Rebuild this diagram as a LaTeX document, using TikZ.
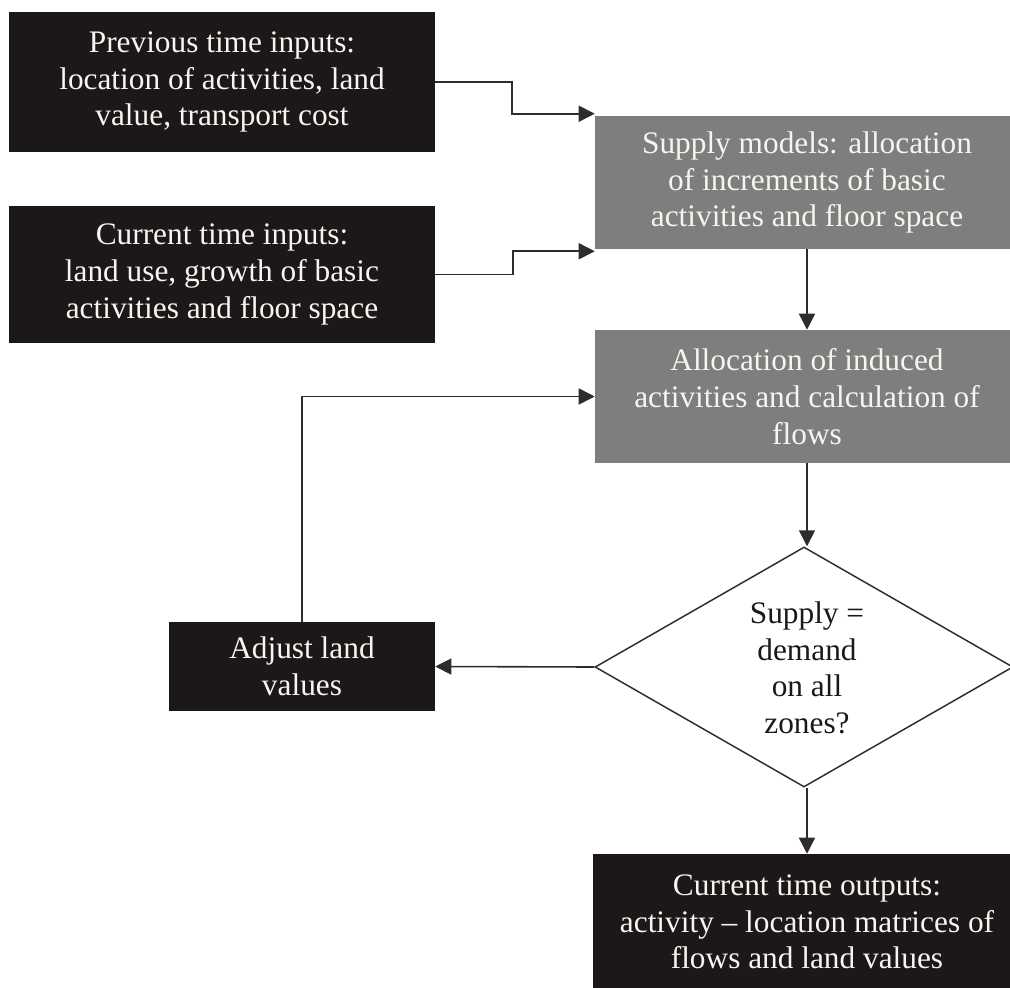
\documentclass[tikz,border=0pt]{standalone}
\usepackage{fontspec}
\setmainfont{Liberation Serif}
\usetikzlibrary{shapes.geometric,arrows.meta}
\definecolor{boxblack}{RGB}{28,24,25}
\definecolor{boxgray}{RGB}{126,126,126}
\definecolor{paper}{RGB}{248,244,238}
\definecolor{linecol}{RGB}{45,45,45}
\begin{document}
\begin{tikzpicture}[x=0.75pt,y=-0.75pt,
  lbl/.style={font=\fontsize{23.5}{27.5}\selectfont, align=center, inner sep=0pt},
  darkbox/.style={rectangle, fill=boxblack, text=paper, lbl},
  graybox/.style={rectangle, fill=boxgray, text=paper, lbl},
  arr/.style={draw=linecol, line width=1.2pt, -{Triangle[length=12pt,width=12pt]}},
  ]
\useasboundingbox (0,0) rectangle (1010,988);

% input boxes
\node[darkbox, minimum width=319.5pt, minimum height=105pt] (prev) at (222,82)
  {Previous time inputs:\\location of activities, land\\value, transport cost};
\node[darkbox, minimum width=319.5pt, minimum height=102.75pt] (curr) at (222,274.5)
  {Current time inputs:\\land use, growth of basic\\activities and floor space};

% model stages
\node[graybox, minimum width=318pt, minimum height=99.75pt] (supply) at (807,182.5)
  {Supply models: allocation\\of increments of basic\\activities and floor space};
\node[graybox, minimum width=318pt, minimum height=99.75pt] (induced) at (807,396.5)
  {Allocation of induced\\activities and calculation of\\flows};

% equilibrium test
\node[diamond, draw=linecol, line width=1.1pt, fill=white, minimum width=313.5pt,
  minimum height=180pt, inner sep=0pt] (test) at (804,667) {};
\node[lbl, text=boxblack] (testlbl) at (807,668) {Supply =\\demand\\on all\\zones?};

% feedback and output
\node[darkbox, minimum width=199.5pt, minimum height=66.75pt] (adjust) at (302,666.5)
  {Adjust land\\values};
\node[darkbox, minimum width=321pt, minimum height=102pt] (out) at (807,922)
  {Current time outputs:\\activity -- location matrices of\\flows and land values};

% connectors
\draw[arr] (prev.east) -- (512,82) |- ([yshift=1.5pt]supply.north west);
\draw[arr] (curr.east) -- (513,274.5) |- ([yshift=-1.5pt]supply.south west);
\draw[arr] (supply.south) -- (induced.north);
\draw[arr] (induced.south) -- (induced.south |- test.north);
\draw[arr] (test.west) -- (adjust.east);
\draw[arr] (adjust.north) |- (induced.west);
\draw[arr] (out.north |- test.south) -- (out.north);
\end{tikzpicture}
\end{document}
